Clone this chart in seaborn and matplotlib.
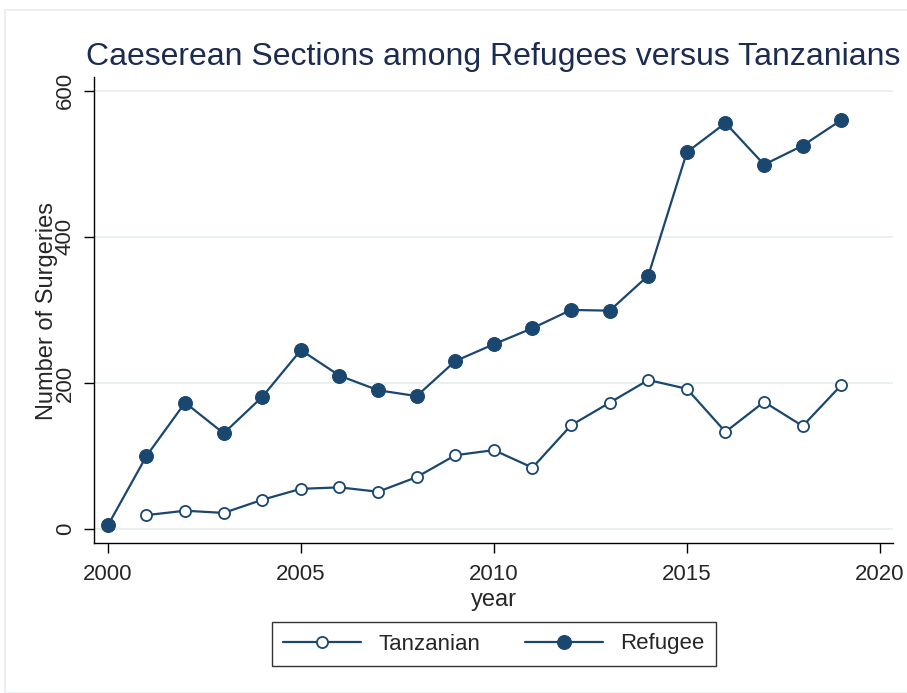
import matplotlib
matplotlib.use("Agg")
import matplotlib.pyplot as plt
import seaborn as sns
import pandas as pd
from matplotlib.patches import Rectangle

years_ref = list(range(2000, 2020))
refugee = [5, 100, 173, 131, 181, 245, 210, 190, 182, 230, 253, 275, 300, 299, 347, 516, 556, 499, 525, 560]
years_tz = list(range(2001, 2020))
tanzanian = [19, 25, 22, 40, 55, 57, 51, 71, 101, 108, 84, 142, 173, 204, 192, 133, 174, 141, 197]
xticks = [2000, 2005, 2010, 2015, 2020]
yticks = [0, 200, 400, 600]

sns.set_theme(style="white")
plt.rcParams['font.family'] = ['Liberation Sans', 'DejaVu Sans']

navy = "#1a476f"
fig = plt.figure(figsize=(9.07, 6.93), dpi=100)
fig.patches.append(Rectangle((5/907, 0), 1, 1 - 10/693, transform=fig.transFigure,
                             fill=False, edgecolor="#e6eeee", linewidth=1.2))
ax = fig.add_axes([94/907, 1 - 543/693, (893 - 94)/907, (543 - 77)/693])

df_tz = pd.DataFrame({"year": years_tz, "n": tanzanian})
df_rf = pd.DataFrame({"year": years_ref, "n": refugee})
sns.lineplot(data=df_tz, x="year", y="n", ax=ax, color=navy, marker="o", markersize=8,
             markerfacecolor="white", markeredgecolor=navy, markeredgewidth=1.3,
             linewidth=1.6, label="Tanzanian")
sns.lineplot(data=df_rf, x="year", y="n", ax=ax, color=navy, marker="o", markersize=10,
             markerfacecolor=navy, markeredgecolor=navy, linewidth=1.6, label="Refugee")

ax.set_xlim(1999.64, 2020.34)
ax.set_ylim(-19.2, 619)
ax.set_xticks(xticks)
ax.set_yticks(yticks)
ax.set_yticklabels([str(v) for v in yticks], rotation=90, va="center")
ax.tick_params(axis="both", which="both", direction="out", length=7, width=1, color="black",
               labelsize=16, left=True, bottom=True)
ax.tick_params(axis="x", pad=8)
ax.tick_params(axis="y", pad=6)
for s in ["top", "right"]:
    ax.spines[s].set_visible(False)
for s in ["left", "bottom"]:
    ax.spines[s].set_color("black")
    ax.spines[s].set_linewidth(1.0)
ax.grid(axis="y", color="#e6eeee", linewidth=1.2)
ax.grid(axis="x", visible=False)
ax.set_xlabel("year", fontsize=17, labelpad=3)
ax.set_ylabel("")
fig.text(47/907, 1 - 311/693, "Number of Surgeries", rotation=90, ha="center", va="center", fontsize=17)
fig.text(493/907, 1 - 57/693, "Caeserean Sections among Refugees versus Tanzanians",
         ha="center", va="center", fontsize=23, color="#1c2b50")

leg = ax.legend(loc="center", bbox_to_anchor=(494/907, 1 - 644/693), bbox_transform=fig.transFigure,
                ncol=2, frameon=True, fancybox=False, fontsize=16, handlelength=3.5,
                columnspacing=2.0, borderpad=0.5, handletextpad=0.8)
leg.get_frame().set_edgecolor("black")
leg.get_frame().set_linewidth(1.0)

fig.savefig("out.png", dpi=100, facecolor="white")
